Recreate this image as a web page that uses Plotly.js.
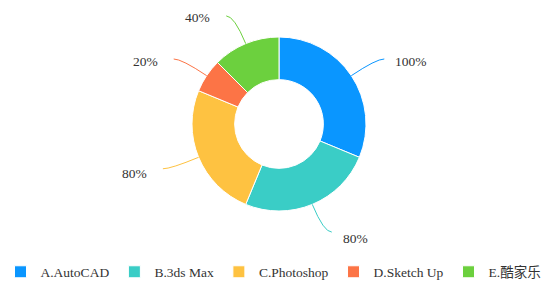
<!DOCTYPE html>
<html>
<head>
<meta charset="utf-8">
<script src="https://cdn.plot.ly/plotly-3.0.1.min.js"></script>
<style>html,body{margin:0;padding:0;background:#fff;}#chart{width:547px;height:281px;}</style>
</head>
<body>
<div id="chart"></div>
<script>
// Data
var categories = ["A.AutoCAD", "B.3ds Max", "C.Photoshop", "D.Sketch Up", "E.酷家乐"];
var values = [100, 80, 80, 20, 40];
var labelTexts = ["100%", "80%", "80%", "20%", "40%"];
var colors = ["#0a96ff", "#3acdc6", "#fec241", "#fc7446", "#6cd03e"];

var W = 547, H = 281;
var cx = 279, cy = 124, R = 87;   // pie centre / radius in px
var L1 = 30, L2 = 8, GAP_R = 9, GAP_L = 14;
var SERIF = "'Liberation Serif', 'Times New Roman', serif";
function px2x(px) { return px / W; }
function py2y(py) { return 1 - py / H; }

var total = values.reduce(function (a, b) { return a + b; }, 0);
var shapes = [], annotations = [];
var acc = 0;
for (var i = 0; i < values.length; i++) {
  var mid = (acc + values[i] / 2) / total * 2 * Math.PI;
  acc += values[i];
  var dx = Math.sin(mid), dy = -Math.cos(mid);
  var p0 = [cx + R * dx, cy + R * dy];
  var p1 = [cx + (R + L1) * dx, cy + (R + L1) * dy];
  var s = dx >= 0 ? 1 : -1;
  var p2 = [p1[0] + s * L2, p1[1]];
  shapes.push({
    type: "path", xref: "paper", yref: "paper",
    path: "M" + px2x(p0[0]) + "," + py2y(p0[1]) +
          " Q" + px2x(p1[0]) + "," + py2y(p1[1]) +
          " " + px2x(p2[0]) + "," + py2y(p2[1]),
    line: { color: colors[i], width: 1 }
  });
  annotations.push({
    xref: "paper", yref: "paper",
    x: px2x(p2[0] + (s > 0 ? GAP_R : -GAP_L)), y: py2y(p2[1] + 4 + 2.5 * dy),
    xanchor: s > 0 ? "left" : "right", yanchor: "middle",
    text: labelTexts[i], showarrow: false,
    font: { family: SERIF, size: 13.5, color: "#333" }
  });
}

var trace = {
  type: "pie",
  labels: categories,
  values: values,
  hole: 0.51,
  sort: false,
  direction: "clockwise",
  rotation: 0,
  textinfo: "none",
  hoverinfo: "none",
  marker: { colors: colors, line: { color: "#ffffff", width: 1 } },
  domain: { x: [px2x(cx - R), px2x(cx + R)], y: [py2y(cy + R), py2y(cy - R)] }
};

var layout = {
  width: W, height: H,
  margin: { l: 0, r: 0, t: 0, b: 0, autoexpand: false },
  paper_bgcolor: "#fff",
  showlegend: true,
  legend: {
    orientation: "h", x: 0.5, xanchor: "center", y: py2y(272), yanchor: "middle",
    font: { family: SERIF + ", 'Noto Sans CJK SC'", size: 13.5, color: "#333" },
    traceorder: "normal"
  },
  shapes: shapes,
  annotations: annotations
};

Plotly.newPlot("chart", [trace], layout, { displayModeBar: false, staticPlot: true });
</script>
</body>
</html>
